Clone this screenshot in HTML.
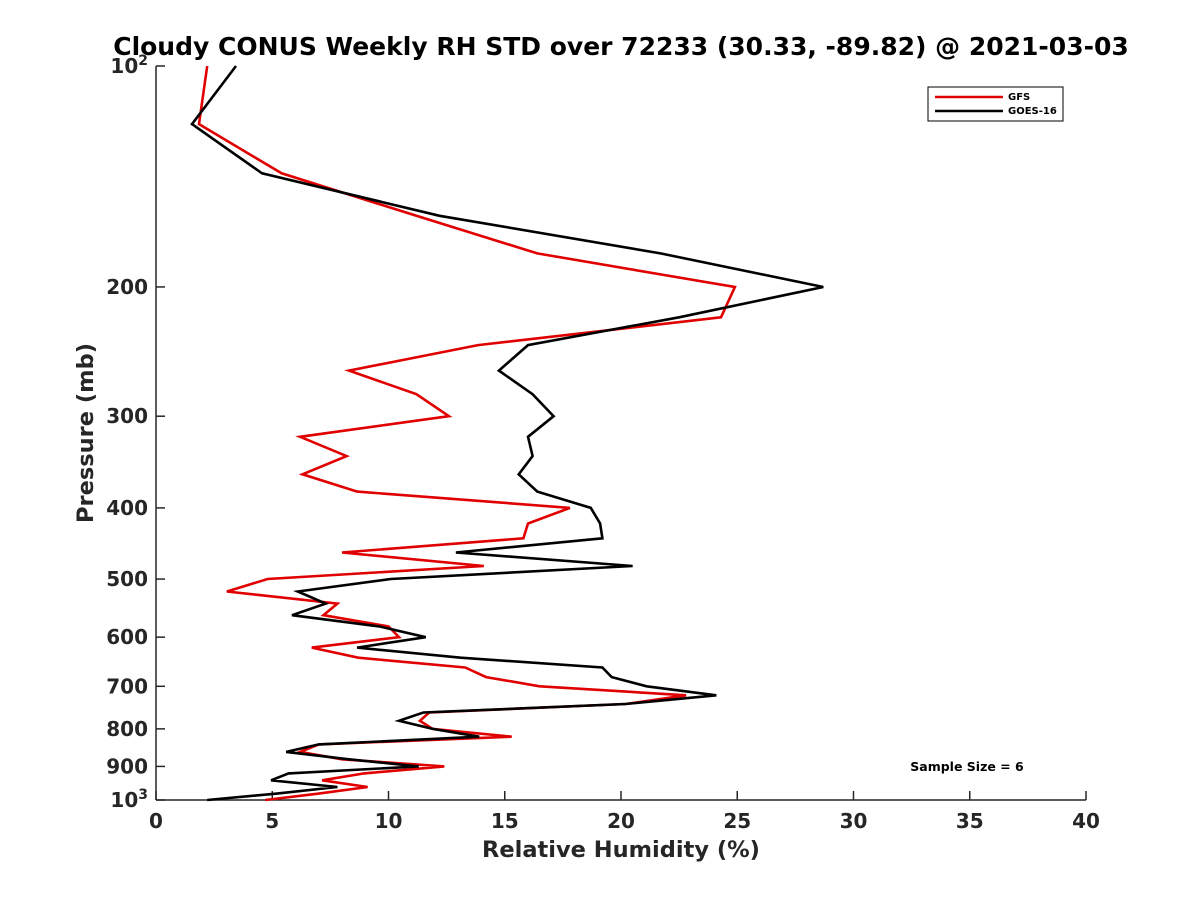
<!DOCTYPE html>
<html><head><meta charset="utf-8"><style>
body{margin:0;background:#fff}
svg text{font-family:"DejaVu Sans","Liberation Sans",sans-serif;font-weight:bold;fill:#262626}
</style></head><body>
<svg id="chart" width="1200" height="900" viewBox="0 0 1200 900" xmlns="http://www.w3.org/2000/svg">
<rect width="1200" height="900" fill="#fff"/>
<text x="621" y="55" font-size="25" text-anchor="middle" style="fill:#000">Cloudy CONUS Weekly RH STD over 72233 (30.33, -89.82) @ 2021-03-03</text>
<g id="axes"></g>
<g id="series"></g>
<text x="621" y="857" font-size="22.5" text-anchor="middle">Relative Humidity (%)</text>
<text transform="translate(93,433) rotate(-90)" font-size="22.5" text-anchor="middle">Pressure (mb)</text>
<text x="967" y="771" font-size="12.5" text-anchor="middle" style="fill:#000">Sample Size = 6</text>
<g>
<rect x="928" y="87" width="135" height="34" fill="#fff" stroke="#000" stroke-width="1"/>
<line x1="935" y1="97" x2="1003" y2="97" stroke="#e00000" stroke-width="2.5"/>
<text x="1008" y="100" font-size="10" style="fill:#000">GFS</text>
<line x1="935" y1="111" x2="1003" y2="111" stroke="#000" stroke-width="2.5"/>
<text x="1008" y="114" font-size="10" style="fill:#000">GOES-16</text>
</g>
</svg>
<script>
const pressures=[100,120,140,160,180,200,220,240,260,280,300,320,340,360,380,400,420,440,460,480,500,520,540,560,580,600,620,640,660,680,700,720,740,760,780,800,820,840,860,880,900,920,940,960,980,1000];
const goesRH=[3.44,1.55,4.56,12.2,21.7,28.7,22.5,16.0,14.75,16.2,17.1,16.0,16.2,15.6,16.4,18.7,19.1,19.2,12.9,20.5,10.1,6.1,7.3,5.85,9.6,11.6,8.65,13.1,19.2,19.6,21.1,24.1,20.2,11.5,10.45,11.9,13.9,7.0,5.6,8.3,11.3,5.7,4.95,7.8,5.2,2.2];
const gfsRH=[2.2,1.85,5.4,11.2,16.4,24.9,24.3,13.85,8.3,11.2,12.6,6.2,8.2,6.3,8.65,17.8,16.0,15.8,8.0,14.1,4.8,3.05,7.8,7.2,10.0,10.45,6.7,8.7,13.3,14.2,16.5,22.8,20.2,11.75,11.35,11.9,15.3,7.0,6.2,8.0,12.4,8.95,7.15,9.1,7.0,4.7];
const xTicks=[0,5,10,15,20,25,30,35,40];
const yTicks=[200,300,400,500,600,700,800,900];
const X0=156,X1=1086,Y0=66,Y1=800;
function xs(v){return X0+(v-0)/(40-0)*(X1-X0);}
function ys(p){return Y0+Math.log10(p/100)*(Y1-Y0);}
const NS="http://www.w3.org/2000/svg";
const axes=document.getElementById('axes'),series=document.getElementById('series');
function mk(tag,attrs,parent){const e=document.createElementNS(NS,tag);for(const k in attrs)e.setAttribute(k,attrs[k]);parent.appendChild(e);return e;}
let a=mk('line',{x1:X0,y1:Y0,x2:X0,y2:Y1,stroke:'#262626','stroke-width':1.5},axes);


a=mk('line',{x1:X0,y1:Y1,x2:X1,y2:Y1,stroke:'#262626','stroke-width':1.5},axes);


xTicks.forEach(v=>{const x=xs(v);
 let t=mk('line',{x1:x,y1:Y1,x2:x,y2:Y1-9,stroke:'#262626','stroke-width':1.5},axes);
 
 
 let l=mk('text',{x:x,y:Y1+28,'font-size':20,'text-anchor':'middle'},axes);l.textContent=v;
 
 
});
[100,1000].concat(yTicks).forEach(p=>{const y=ys(p);
 let t=mk('line',{x1:X0,y1:y,x2:X0+9,y2:y,stroke:'#262626','stroke-width':1.5},axes);
 
 
});
yTicks.forEach(p=>{const y=ys(p);
 let l=mk('text',{x:X0-8,y:y+7,'font-size':20,'text-anchor':'end'},axes);l.textContent=p;
 
 
});
[[100,'2'],[1000,'3']].forEach(([p,e])=>{const y=ys(p);
 let l=mk('text',{x:X0-8,y:y+7,'font-size':20,'text-anchor':'end'},axes);
 l.innerHTML='10<tspan dy="-8" font-size="14">'+e+'</tspan>';
 
 
});
function line(vals,color,name){
 const pts=vals.map((v,i)=>xs(v).toFixed(1)+','+ys(pressures[i]).toFixed(1)).join(' ');
 const pl=mk('polyline',{points:pts,fill:'none',stroke:color,'stroke-width':2.6,'stroke-linejoin':'miter'},series);
 
 
}
line(gfsRH,'#e00000','gfs-line');
line(goesRH,'#000000','goes16-line');
</script>
</body></html>
